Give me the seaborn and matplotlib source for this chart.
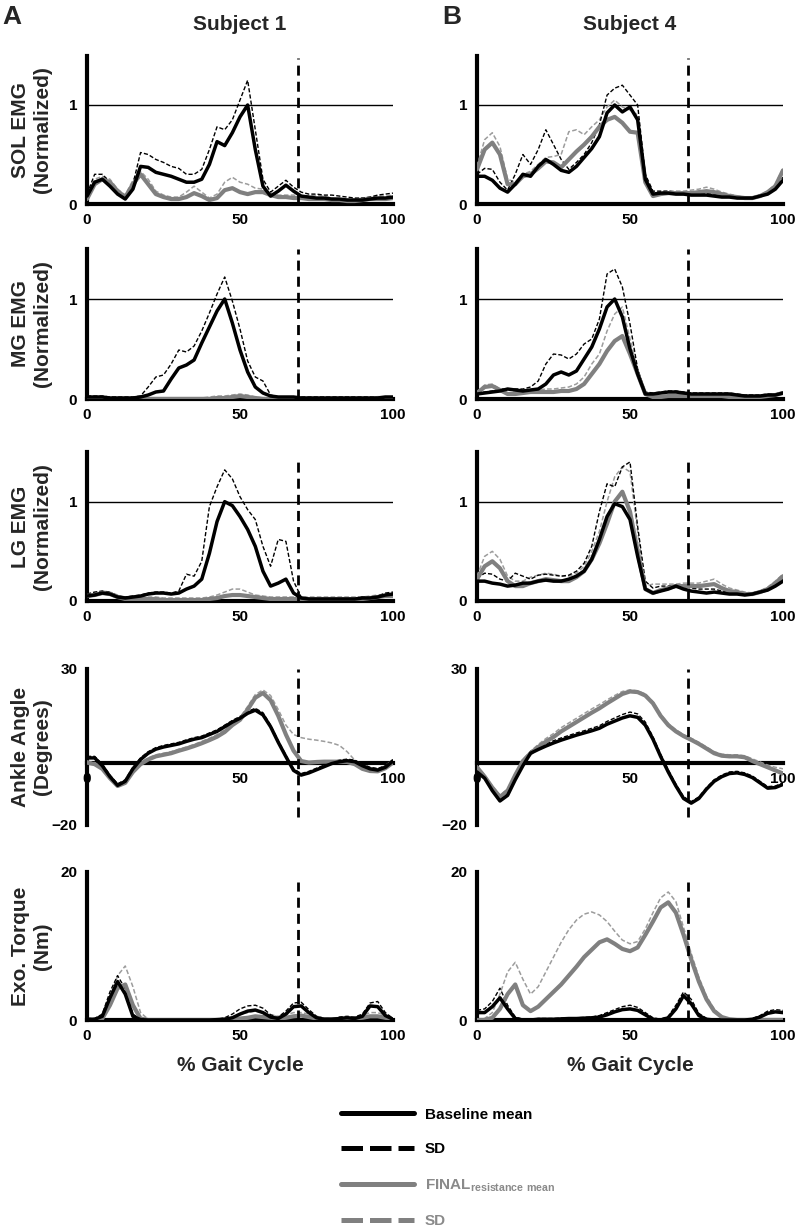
import matplotlib
matplotlib.use("Agg")
import matplotlib.pyplot as plt
from matplotlib.lines import Line2D
import pandas as pd
import seaborn as sns

# % gait cycle grid the curves were read at
PCT = [0, 2.5, 5, 7.5, 10, 12.5, 15, 17.5, 20, 22.5, 25, 27.5, 30, 32.5, 35, 37.5, 40,
       42.5, 45, 47.5, 50, 52.5, 55, 57.5, 60, 62.5, 65, 67.5, 70, 72.5, 75, 77.5, 80,
       82.5, 85, 87.5, 90, 92.5, 95, 97.5, 100]

# ---- Subject 1 ----
S1_SOL_BM = [0.08,0.22,0.25,0.18,0.10,0.05,0.15,0.38,0.37,0.32,0.30,0.28,0.25,0.22,0.22,0.25,0.40,0.63,0.59,0.72,0.88,1.00,0.55,0.18,0.08,0.13,0.19,0.13,0.08,0.07,0.06,0.06,0.05,0.05,0.04,0.04,0.04,0.05,0.06,0.06,0.07]
S1_SOL_BSD = [0.10,0.30,0.30,0.22,0.12,0.07,0.20,0.52,0.50,0.45,0.42,0.38,0.36,0.30,0.30,0.35,0.55,0.78,0.75,0.85,1.05,1.25,0.75,0.25,0.12,0.18,0.24,0.17,0.12,0.10,0.10,0.09,0.09,0.08,0.07,0.06,0.06,0.07,0.09,0.10,0.11]
S1_SOL_FM = [0.05,0.20,0.25,0.22,0.13,0.07,0.20,0.30,0.20,0.10,0.07,0.05,0.05,0.07,0.11,0.08,0.04,0.06,0.14,0.16,0.12,0.10,0.12,0.12,0.09,0.07,0.07,0.06,0.06,0.05,0.05,0.05,0.04,0.04,0.03,0.03,0.04,0.05,0.05,0.05,0.06]
S1_SOL_FSD = [0.07,0.25,0.28,0.25,0.15,0.09,0.24,0.33,0.25,0.13,0.09,0.07,0.07,0.12,0.18,0.12,0.06,0.10,0.22,0.27,0.22,0.20,0.16,0.15,0.11,0.09,0.09,0.09,0.08,0.08,0.09,0.08,0.06,0.05,0.05,0.05,0.06,0.07,0.08,0.08,0.09]

S1_MG_BM = [0.02,0.02,0.02,0.01,0.01,0.01,0.01,0.02,0.04,0.07,0.08,0.20,0.31,0.34,0.39,0.56,0.72,0.88,1.00,0.76,0.49,0.27,0.12,0.06,0.03,0.02,0.02,0.02,0.01,0.01,0.01,0.01,0.01,0.01,0.01,0.01,0.01,0.01,0.01,0.02,0.02]
S1_MG_BSD = [0.03,0.03,0.03,0.02,0.02,0.02,0.02,0.03,0.12,0.22,0.24,0.35,0.49,0.47,0.53,0.68,0.86,1.05,1.22,0.98,0.70,0.38,0.22,0.18,0.04,0.02,0.02,0.02,0.02,0.02,0.02,0.02,0.02,0.02,0.02,0.02,0.02,0.02,0.02,0.02,0.02]
S1_MG_FM = [0.01,0.01,0.01,0.00,0.00,0.00,0.00,0.00,0.00,0.00,0.00,0.00,0.00,0.00,0.00,0.00,0.00,0.01,0.01,0.02,0.03,0.02,0.01,0.00,0.00,0.00,0.00,0.00,0.00,0.00,0.00,0.00,0.00,0.00,0.00,0.00,0.00,0.00,0.01,0.01,0.01]
S1_MG_FSD = [0.02,0.02,0.02,0.01,0.01,0.01,0.01,0.01,0.01,0.01,0.01,0.01,0.01,0.01,0.01,0.01,0.02,0.03,0.03,0.04,0.05,0.04,0.02,0.01,0.01,0.01,0.01,0.01,0.01,0.01,0.01,0.01,0.01,0.01,0.01,0.01,0.01,0.01,0.02,0.02,0.02]

S1_LG_BM = [0.05,0.06,0.08,0.07,0.04,0.03,0.04,0.05,0.07,0.08,0.08,0.07,0.08,0.12,0.15,0.22,0.48,0.80,1.00,0.96,0.85,0.72,0.55,0.30,0.15,0.18,0.22,0.08,0.03,0.02,0.02,0.02,0.02,0.02,0.02,0.02,0.03,0.03,0.04,0.06,0.07]
S1_LG_BSD = [0.07,0.09,0.10,0.09,0.05,0.04,0.05,0.06,0.08,0.09,0.09,0.08,0.10,0.27,0.25,0.40,0.95,1.15,1.32,1.23,1.05,0.92,0.82,0.55,0.35,0.62,0.60,0.20,0.04,0.03,0.03,0.03,0.03,0.03,0.03,0.03,0.04,0.04,0.05,0.08,0.09]
S1_LG_FM = [0.05,0.06,0.08,0.07,0.04,0.02,0.02,0.02,0.02,0.02,0.01,0.01,0.01,0.01,0.01,0.01,0.02,0.03,0.05,0.06,0.06,0.05,0.04,0.03,0.02,0.02,0.02,0.02,0.02,0.02,0.02,0.02,0.02,0.02,0.02,0.02,0.02,0.03,0.04,0.05,0.05]
S1_LG_FSD = [0.07,0.08,0.10,0.09,0.06,0.04,0.04,0.04,0.04,0.04,0.03,0.03,0.03,0.03,0.03,0.03,0.04,0.06,0.09,0.12,0.12,0.09,0.06,0.05,0.04,0.04,0.04,0.04,0.04,0.04,0.04,0.04,0.04,0.04,0.04,0.04,0.04,0.05,0.06,0.07,0.07]

S1_ANK_BM = [1.5,1.5,-1.0,-4.5,-7.3,-6.0,-2.0,1.0,3.0,4.3,5.0,5.5,6.0,6.8,7.5,8.0,9.0,10.0,11.5,13.0,14.2,15.8,16.8,15.3,11.5,6.5,1.9,-2.5,-4.0,-3.3,-2.3,-1.3,-0.3,0.3,0.6,0.3,-1.0,-2.0,-2.4,-1.5,0.5]
S1_ANK_BSD = [2.0,2.0,-0.5,-4.0,-6.8,-5.5,-1.5,1.5,3.5,4.8,5.5,6.0,6.5,7.3,8.0,8.5,9.5,10.5,12.0,13.5,14.8,16.4,17.4,16.0,12.0,7.0,2.4,-2.0,-3.5,-2.8,-1.8,-0.8,0.2,0.8,1.1,0.8,-0.5,-1.5,-1.9,-1.0,1.0]
S1_ANK_FM = [0.0,-0.5,-2.0,-5.0,-7.5,-6.5,-3.0,-0.5,1.0,2.0,2.5,3.0,3.8,4.5,5.3,6.2,7.2,8.3,9.8,12.0,13.7,17.0,20.8,22.3,20.0,15.0,9.0,3.8,0.5,0.0,0.2,0.3,0.3,0.3,0.2,-0.5,-2.0,-2.7,-2.8,-1.8,0.0]
S1_ANK_FSD = [0.5,0.0,-1.5,-4.5,-7.0,-6.0,-2.5,0.0,1.5,2.5,3.0,3.5,4.3,5.0,5.8,6.8,7.8,9.0,10.5,12.8,14.5,18.0,21.8,23.3,21.5,17.0,12.0,9.0,8.0,7.5,7.2,6.8,6.3,5.5,3.5,0.8,-0.8,-1.8,-2.0,-1.0,1.0]

S1_TQ_BM = [0.1,0.1,0.5,3.0,5.2,3.5,0.5,0.05,0.0,0.0,0.0,0.0,0.0,0.0,0.0,0.0,0.0,0.05,0.1,0.3,0.8,1.2,1.35,1.0,0.4,0.2,0.8,1.8,1.9,1.0,0.3,0.1,0.1,0.2,0.3,0.2,0.5,1.9,1.8,0.6,0.1]
S1_TQ_BSD = [0.2,0.2,0.8,3.8,6.0,4.2,0.8,0.1,0.05,0.05,0.05,0.05,0.05,0.05,0.05,0.05,0.05,0.1,0.3,0.8,1.5,1.9,2.0,1.6,0.7,0.4,1.2,2.3,2.4,1.4,0.5,0.2,0.2,0.4,0.5,0.4,0.8,2.3,2.5,1.0,0.2]
S1_TQ_FM = [0.0,0.0,0.2,2.0,4.3,4.8,2.0,0.2,0.0,0.0,0.0,0.0,0.0,0.0,0.0,0.0,0.0,0.0,0.05,0.1,0.2,0.3,0.5,0.4,0.3,0.2,0.3,0.5,0.6,0.4,0.2,0.1,0.1,0.1,0.2,0.2,0.3,0.5,0.5,0.3,0.1]
S1_TQ_FSD = [0.1,0.1,0.5,3.0,6.0,7.3,4.5,1.0,0.1,0.05,0.05,0.05,0.05,0.05,0.05,0.05,0.05,0.1,0.2,0.4,0.8,1.0,1.2,1.0,0.7,0.5,0.7,1.0,1.0,0.8,0.5,0.3,0.3,0.3,0.4,0.4,0.6,1.0,1.0,0.6,0.2]

# ---- Subject 4 ----
S4_SOL_BM = [0.28,0.28,0.24,0.16,0.12,0.20,0.30,0.28,0.38,0.45,0.40,0.34,0.32,0.38,0.47,0.56,0.68,0.92,1.00,0.93,0.98,0.85,0.25,0.10,0.11,0.11,0.10,0.10,0.09,0.09,0.09,0.08,0.07,0.07,0.06,0.06,0.06,0.08,0.10,0.15,0.24]
S4_SOL_BSD = [0.30,0.36,0.35,0.22,0.14,0.30,0.50,0.40,0.55,0.75,0.60,0.45,0.35,0.42,0.50,0.62,0.80,1.10,1.17,1.20,1.10,1.00,0.30,0.13,0.13,0.13,0.12,0.12,0.11,0.11,0.11,0.10,0.09,0.08,0.07,0.07,0.07,0.09,0.12,0.17,0.27]
S4_SOL_FM = [0.35,0.55,0.62,0.50,0.20,0.20,0.28,0.30,0.36,0.43,0.42,0.37,0.45,0.53,0.60,0.68,0.78,0.85,0.88,0.82,0.73,0.72,0.22,0.08,0.10,0.11,0.11,0.11,0.11,0.12,0.13,0.12,0.10,0.08,0.07,0.06,0.06,0.08,0.12,0.18,0.34]
S4_SOL_FSD = [0.38,0.65,0.72,0.58,0.25,0.22,0.30,0.33,0.40,0.47,0.48,0.50,0.73,0.75,0.70,0.78,0.85,0.98,1.05,0.98,0.95,0.90,0.26,0.10,0.12,0.13,0.13,0.13,0.14,0.15,0.17,0.15,0.12,0.10,0.08,0.07,0.07,0.09,0.13,0.20,0.36]

S4_MG_BM = [0.05,0.06,0.07,0.08,0.10,0.09,0.08,0.09,0.10,0.15,0.24,0.27,0.24,0.28,0.40,0.52,0.70,0.92,1.00,0.82,0.50,0.25,0.05,0.05,0.06,0.07,0.07,0.06,0.05,0.05,0.05,0.05,0.05,0.05,0.04,0.03,0.03,0.03,0.04,0.04,0.06]
S4_MG_BSD = [0.06,0.07,0.08,0.10,0.10,0.10,0.10,0.12,0.18,0.35,0.45,0.44,0.40,0.45,0.55,0.60,0.80,1.25,1.30,1.12,0.75,0.30,0.07,0.06,0.07,0.08,0.08,0.07,0.06,0.06,0.06,0.06,0.06,0.06,0.05,0.04,0.04,0.04,0.05,0.05,0.07]
S4_MG_FM = [0.06,0.12,0.13,0.09,0.05,0.05,0.06,0.07,0.07,0.07,0.07,0.08,0.08,0.10,0.15,0.25,0.35,0.48,0.58,0.63,0.45,0.25,0.05,0.02,0.02,0.03,0.03,0.03,0.03,0.03,0.03,0.03,0.03,0.02,0.02,0.02,0.02,0.02,0.03,0.04,0.06]
S4_MG_FSD = [0.07,0.14,0.15,0.10,0.06,0.07,0.08,0.09,0.09,0.10,0.10,0.11,0.12,0.15,0.22,0.35,0.45,0.68,0.85,0.92,0.60,0.30,0.06,0.03,0.03,0.04,0.04,0.04,0.04,0.04,0.04,0.04,0.04,0.03,0.03,0.03,0.03,0.03,0.04,0.05,0.07]

S4_LG_BM = [0.20,0.20,0.18,0.17,0.15,0.16,0.18,0.18,0.20,0.21,0.20,0.20,0.22,0.25,0.30,0.42,0.62,0.85,0.98,0.95,0.82,0.45,0.12,0.08,0.10,0.12,0.15,0.12,0.10,0.09,0.08,0.09,0.08,0.07,0.07,0.06,0.07,0.09,0.11,0.15,0.20]
S4_LG_BSD = [0.23,0.28,0.27,0.22,0.20,0.28,0.25,0.22,0.26,0.27,0.26,0.25,0.26,0.30,0.38,0.55,0.90,1.18,1.15,1.35,1.40,0.75,0.20,0.13,0.15,0.15,0.16,0.15,0.13,0.12,0.12,0.12,0.10,0.09,0.08,0.07,0.08,0.10,0.13,0.17,0.22]
S4_LG_FM = [0.22,0.35,0.40,0.33,0.20,0.15,0.15,0.18,0.20,0.22,0.21,0.20,0.20,0.24,0.30,0.42,0.58,0.78,1.00,1.10,0.90,0.50,0.12,0.08,0.11,0.13,0.15,0.15,0.15,0.15,0.16,0.17,0.13,0.10,0.09,0.07,0.07,0.09,0.12,0.18,0.25]
S4_LG_FSD = [0.25,0.45,0.50,0.42,0.25,0.20,0.20,0.24,0.26,0.28,0.27,0.25,0.25,0.28,0.35,0.50,0.70,1.00,1.25,1.35,1.30,0.70,0.15,0.17,0.17,0.17,0.17,0.18,0.18,0.18,0.20,0.22,0.17,0.13,0.11,0.09,0.08,0.10,0.14,0.20,0.27]

S4_ANK_BM = [-3.0,-5.0,-9.0,-12.3,-10.5,-5.5,-1.0,3.0,4.2,5.3,6.3,7.2,8.0,8.8,9.5,10.2,11.0,12.3,13.3,14.3,15.0,14.5,12.0,7.5,2.0,-3.0,-7.5,-11.5,-13.0,-11.5,-8.5,-6.0,-4.5,-3.5,-3.3,-3.8,-4.8,-6.5,-8.2,-8.0,-7.0]
S4_ANK_BSD = [-2.4,-4.4,-8.4,-11.7,-9.9,-4.9,-0.4,3.6,4.8,6.0,7.0,7.9,8.7,9.5,10.2,11.0,11.8,13.2,14.3,15.4,16.2,15.6,13.0,8.3,2.7,-2.3,-6.9,-10.9,-12.5,-11.0,-8.0,-5.5,-4.0,-3.0,-2.8,-3.3,-4.3,-6.0,-7.7,-7.5,-6.5]
S4_ANK_FM = [-1.5,-4.5,-8.0,-11.0,-9.0,-4.0,0.5,3.0,5.0,6.7,8.2,10.0,11.5,13.0,14.5,16.0,17.4,19.0,20.5,22.0,22.8,22.6,21.5,19.0,15.0,12.0,10.0,8.5,7.3,6.0,4.5,3.0,2.2,2.0,2.0,1.7,0.5,-0.5,-1.5,-2.5,-3.5]
S4_ANK_FSD = [-1.0,-4.0,-7.5,-10.5,-8.5,-3.5,1.0,3.6,5.8,7.7,9.3,11.2,12.7,14.2,15.7,17.2,18.6,20.1,21.5,22.8,23.3,23.0,22.0,19.5,15.5,12.5,10.5,9.0,7.8,6.5,5.0,3.5,2.7,2.5,2.5,2.2,1.2,0.2,-0.8,-1.5,-2.0]

S4_TQ_BM = [1.0,1.0,1.8,3.0,1.5,0.2,0.0,0.0,0.1,0.1,0.1,0.15,0.2,0.2,0.25,0.3,0.4,0.7,1.1,1.4,1.5,1.3,0.7,0.1,0.0,0.3,1.5,3.3,2.2,0.6,0.1,0.0,0.0,0.0,0.0,0.0,0.1,0.4,0.9,1.1,1.0]
S4_TQ_BSD = [1.3,1.5,2.5,4.3,2.0,0.4,0.1,0.1,0.2,0.2,0.2,0.25,0.3,0.3,0.35,0.4,0.6,1.0,1.4,1.8,2.0,1.7,1.0,0.3,0.1,0.5,2.0,3.8,2.8,0.9,0.2,0.1,0.1,0.1,0.1,0.1,0.2,0.6,1.2,1.4,1.3]
S4_TQ_FM = [0.0,0.0,0.3,1.5,3.5,4.8,2.0,1.2,1.8,2.8,3.8,4.8,6.0,7.2,8.5,9.5,10.5,10.9,10.3,9.6,9.3,9.8,11.5,13.3,15.2,15.9,14.5,11.5,8.2,5.2,2.8,1.2,0.4,0.1,0.0,0.0,0.0,0.0,0.0,0.0,0.0]
S4_TQ_FSD = [0.0,0.2,1.0,3.5,6.5,7.8,5.5,3.5,4.5,6.5,8.5,10.5,12.2,13.5,14.3,14.6,14.2,13.3,12.0,10.8,10.3,10.6,12.3,14.5,16.5,17.3,16.0,12.5,9.0,5.8,3.2,1.5,0.5,0.1,0.0,0.0,0.0,0.0,0.0,0.0,0.0]

ROW_LABELS = ["SOL EMG\n(Normalized)", "MG EMG\n(Normalized)", "LG EMG\n(Normalized)",
              "Ankle Angle\n(Degrees)", "Exo. Torque\n(Nm)"]
SUBJECTS = ["Subject 1", "Subject 4"]
PANEL_LETTERS = ["A", "B"]
TOE_OFF = 69  # % gait cycle of the dashed marker

S1 = [(S1_SOL_BM, S1_SOL_BSD, S1_SOL_FM, S1_SOL_FSD),
      (S1_MG_BM, S1_MG_BSD, S1_MG_FM, S1_MG_FSD),
      (S1_LG_BM, S1_LG_BSD, S1_LG_FM, S1_LG_FSD),
      (S1_ANK_BM, S1_ANK_BSD, S1_ANK_FM, S1_ANK_FSD),
      (S1_TQ_BM, S1_TQ_BSD, S1_TQ_FM, S1_TQ_FSD)]
S4 = [(S4_SOL_BM, S4_SOL_BSD, S4_SOL_FM, S4_SOL_FSD),
      (S4_MG_BM, S4_MG_BSD, S4_MG_FM, S4_MG_FSD),
      (S4_LG_BM, S4_LG_BSD, S4_LG_FM, S4_LG_FSD),
      (S4_ANK_BM, S4_ANK_BSD, S4_ANK_FM, S4_ANK_FSD),
      (S4_TQ_BM, S4_TQ_BSD, S4_TQ_FM, S4_TQ_FSD)]

sns.set_style("white")
plt.rcParams["font.family"] = ["Liberation Sans", "DejaVu Sans"]
plt.rcParams["mathtext.fontset"] = "custom"
plt.rcParams["mathtext.rm"] = "Liberation Sans"
plt.rcParams["mathtext.bf"] = "Liberation Sans:bold"

BLACK = "#000000"
GRAY = "#808080"
GRAY_SD = "#9c9c9c"

W, H = 803, 1230
fig = plt.figure(figsize=(W / 100, H / 100), dpi=100)


def box(x0, x1, ytop, ybot):
    return [x0 / W, 1 - ybot / H, (x1 - x0) / W, (ybot - ytop) / H]


# row geometry in pixels: (ylim, top px, bottom px, yticks, vline span)
ROWS = [((0, 1.5), 55.5, 204, [0, 1], (0, 0.98)),
        ((0, 1.5), 249, 399, [0, 1], (0, 1.0)),
        ((0, 1.5), 452, 601, [0, 1], (0, 0.93)),
        ((-20, 30), 669, 825, [-20, 30], (0.05, 1.0)),
        ((0, 20), 872, 1020, [0, 20], (0, 0.93))]
COLS = [(87, 393), (477, 783)]

for c, subj in enumerate((S1, S4)):
    x0, x1 = COLS[c]
    for r, (bm, bsd, fm, fsd) in enumerate(subj):
        ylim, yt, yb, yticks, vspan = ROWS[r]
        ax = fig.add_axes(box(x0, x1, yt, yb))
        df = pd.DataFrame({"pct": PCT, "bm": bm, "bsd": bsd, "fm": fm, "fsd": fsd})
        sns.lineplot(data=df, x="pct", y="fsd", ax=ax, color=GRAY_SD, lw=1.1,
                     linestyle=(0, (3, 1.5)), zorder=3)
        sns.lineplot(data=df, x="pct", y="bsd", ax=ax, color=BLACK, lw=1.0,
                     linestyle=(0, (3, 1.5)), zorder=3)
        sns.lineplot(data=df, x="pct", y="fm", ax=ax, color=GRAY, lw=3.0, zorder=4)
        sns.lineplot(data=df, x="pct", y="bm", ax=ax, color=BLACK, lw=2.5, zorder=5)
        if r < 3:
            ax.axhline(1, color=BLACK, lw=1.0, zorder=1)
        ax.axvline(TOE_OFF, ymin=vspan[0], ymax=vspan[1], color=BLACK, lw=2.0,
                   linestyle=(0, (3.6, 2.2)), zorder=6)
        ax.set_xlim(0, 100)
        ax.set_ylim(*ylim)
        ax.set_xticks([0, 50, 100])
        ax.set_yticks(yticks)
        ax.set_xlabel("")
        ax.set_ylabel("")
        for s in ("top", "right"):
            ax.spines[s].set_visible(False)
        for s in ("left", "bottom"):
            ax.spines[s].set_linewidth(3.0)
            ax.spines[s].set_color(BLACK)
        if r == 3:
            ax.spines["bottom"].set_position(("data", 0))
        ax.tick_params(axis="x", direction="inout", length=7, width=3, labelsize=11,
                       pad=3, colors=BLACK)
        ax.tick_params(axis="y", direction="out", length=4, width=3, labelsize=11,
                       pad=3, colors=BLACK)
        for t in ax.get_xticklabels() + ax.get_yticklabels():
            t.set_fontweight("bold")
        ax.patch.set_alpha(0)
        if c == 0:
            ax.set_ylabel(ROW_LABELS[r], fontsize=15, fontweight="bold", linespacing=1.2)
            ax.yaxis.set_label_coords(-0.115, 0.5)
        if r == 4:
            ax.set_xlabel("% Gait Cycle", fontsize=15, fontweight="bold", labelpad=9)

    xc = (x0 + x1) / 2
    fig.text(xc / W, 1 - 25 / H, SUBJECTS[c], ha="center", va="center",
             fontsize=15, fontweight="bold")
    fig.text((12 if c == 0 else 452) / W, 1 - 17 / H, PANEL_LETTERS[c], ha="center",
             va="center", fontsize=19, fontweight="bold")

handles = [Line2D([], [], color=BLACK, lw=3.6),
           Line2D([], [], color=BLACK, lw=3.6, linestyle=(0, (4.3, 1.4))),
           Line2D([], [], color=GRAY, lw=3.6),
           Line2D([], [], color=GRAY, lw=3.6, linestyle=(0, (4.3, 1.4)))]
labels = ["Baseline mean", "SD", r"$\mathbf{FINAL}_{\mathbf{resistance\ mean}}$", "SD"]
leg = fig.legend(handles, labels, loc="upper left", bbox_to_anchor=(333 / W, 1 - 1100 / H),
                 frameon=False, fontsize=11, handlelength=4.8, handletextpad=0.7,
                 labelspacing=1.35, borderpad=0)
for t, col in zip(leg.get_texts(), [BLACK, BLACK, "#8a8a8a", "#8a8a8a"]):
    t.set_color(col)
    t.set_fontweight("bold")

fig.savefig("out.png", dpi=100)
